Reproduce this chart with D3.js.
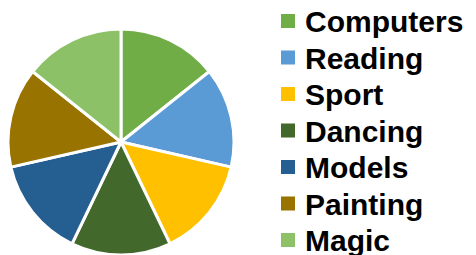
<!DOCTYPE html>
<html>
<head>
<meta charset="utf-8">
<script src="https://cdn.jsdelivr.net/npm/d3@7"></script>
<style>
  html, body { margin: 0; padding: 0; background: #fff; }
  svg { display: block; }
</style>
</head>
<body>
<div id="container"></div>
<script>
const categories = ["Computers", "Reading", "Sport", "Dancing", "Models", "Painting", "Magic"];
const values = [1, 1, 1, 1, 1, 1, 1];
const colors = ["#70ad47", "#5b9bd5", "#ffc000", "#43682b", "#255e91", "#997300", "#8cc168"];

const width = 476;
const height = 255;
const cx = 121, cy = 142, radius = 113;

const svg = d3.select("#container").append("svg")
  .attr("width", width)
  .attr("height", height);

const color = d3.scaleOrdinal().domain(categories).range(colors);

const pie = d3.pie().sort(null).value(d => d.value);
const arc = d3.arc().innerRadius(0).outerRadius(radius);

const data = categories.map((c, i) => ({ name: c, value: values[i] }));

svg.append("g")
  .attr("transform", `translate(${cx},${cy})`)
  .selectAll("path")
  .data(pie(data))
  .join("path")
  .attr("d", arc)
  .attr("fill", d => color(d.data.name))
  .attr("stroke", "#fff")
  .attr("stroke-width", 3)
  .attr("stroke-linejoin", "round");

// legend
const legend = svg.append("g");
const y = d3.scalePoint().domain(categories).range([21, 240]);

const item = legend.selectAll("g")
  .data(categories)
  .join("g")
  .attr("transform", d => `translate(281,${y(d)})`);

item.append("rect")
  .attr("x", 0)
  .attr("y", -7)
  .attr("width", 14)
  .attr("height", 14)
  .attr("fill", d => color(d));

item.append("text")
  .attr("x", 24)
  .attr("y", 11)
  .attr("font-family", "'Liberation Sans', Arial, sans-serif")
  .attr("font-weight", "bold")
  .attr("font-size", 30)
  .attr("fill", "#000")
  .text(d => d);
</script>
</body>
</html>
